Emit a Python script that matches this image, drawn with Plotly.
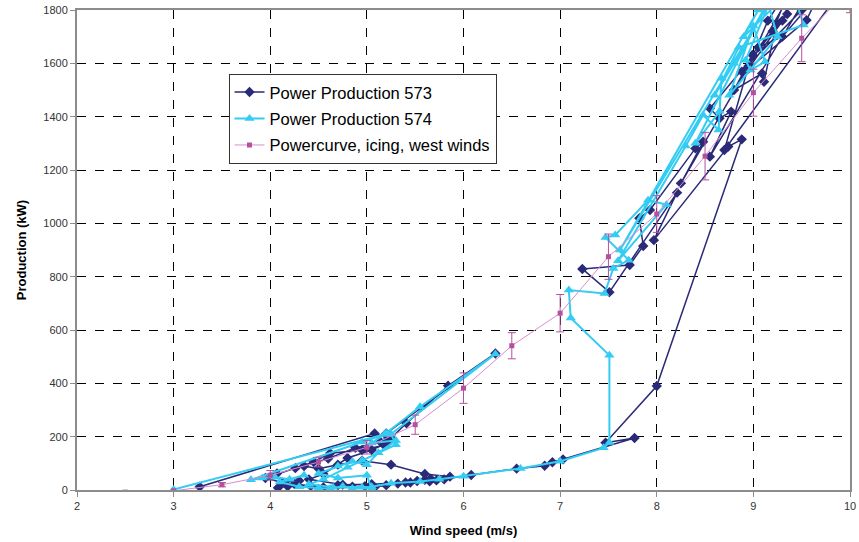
import plotly.graph_objects as go

# ---- Data ----
x573 = [3.27, 5.08, 5.22, 5.18, 4.95, 4.62, 4.45, 4.26, 4.07, 3.95, 4.12, 4.30, 4.18, 4.08, 4.25,
        4.42, 4.55, 4.70, 4.85, 4.98, 5.08, 5.20, 5.32, 5.45, 5.52, 5.60, 5.66, 5.72, 5.80, 5.86,
        5.60, 5.25, 4.95, 4.70, 4.50, 4.35, 4.60, 4.88, 5.14, 5.25, 5.41, 5.84, 6.33, 5.20, 5.22,
        5.05, 4.80, 4.55, 4.40, 4.75, 5.05, 5.40, 5.65, 6.08, 6.55, 6.84, 6.92, 7.03, 7.77, 7.47,
        8.00, 8.88, 8.74, 7.97, 8.21, 7.51, 7.23, 7.72, 7.86, 7.82, 7.93, 8.40, 8.48, 8.25, 9.45,
        9.30, 8.55, 8.65, 8.77, 8.55, 9.60, 9.50, 8.88, 8.99, 8.80, 9.09, 9.11, 9.24, 9.35, 8.95,
        9.55, 9.68, 9.30, 9.05, 9.20, 9.40, 9.15, 8.95, 8.70, 9.82]
y573 = [12, 212, 195, 168, 150, 138, 105, 82, 62, 45, 28, 35, 14, 8, 22,
        15, 10, 18, 12, 14, 10, 18, 24, 28, 34, 38, 42, 36, 40, 50,
        60, 95, 110, 95, 80, 90, 118, 158, 181, 195, 250, 391, 512, 212, 178,
        150, 120, 60, 40, 20, 22, 28, 33, 56, 80, 91, 104, 115, 195, 177,
        390, 1315, 1288, 937, 1115, 742, 829, 844, 915, 1019, 1050, 1281, 1306, 1150, 1900,
        1760, 1431, 1394, 1419, 1250, 1880, 1800, 1569, 1631, 1500, 1562, 1531, 1750, 1785, 1580,
        1762, 1860, 1700, 1660, 1720, 1900, 1760, 1590, 1275, 1830]

x574 = [3.00, 5.18, 4.95, 3.80, 3.92, 4.05, 4.20, 4.35, 4.10, 4.30, 4.50, 4.62, 4.75, 4.85, 4.95,
        5.05, 5.00, 4.70, 4.50, 4.70, 4.85, 5.00, 5.12, 5.30, 5.05, 5.20, 5.55, 6.33, 5.25, 5.30,
        4.95, 4.80, 4.55, 4.40, 4.65, 5.05, 5.25, 5.55, 5.75, 6.00, 6.59, 7.00, 7.45, 7.51, 7.51,
        7.11, 7.09, 7.46, 7.55, 7.71, 7.47, 7.57, 7.91, 8.10, 7.60, 8.30, 8.48, 8.64, 8.67, 8.65,
        8.40, 9.25, 8.92, 8.97, 9.12, 9.00, 8.75, 9.25, 9.15, 8.80, 8.60, 8.85, 9.52, 9.40, 8.90,
        9.05, 7.62, 9.22, 9.35]
y574 = [2, 208, 180, 38, 45, 48, 40, 55, 30, 12, 8, 5, 14, 6, 10,
        5, 55, 45, 62, 90, 108, 95, 140, 186, 176, 214, 312, 510, 210, 170,
        112, 85, 40, 22, 10, 12, 25, 32, 40, 52, 81, 108, 158, 178, 505,
        645, 750, 737, 831, 862, 947, 956, 1087, 1070, 860, 1290, 1406, 1350, 1544, 1420,
        1300, 1900, 1612, 1575, 1606, 1740, 1480, 1700, 1830, 1600, 1480, 1660, 1744, 1880, 1700,
        1800, 900, 1860, 1880]

x_pc = [2.5, 3.0, 3.5, 4.0, 4.5, 5.0, 5.5, 6.0, 6.5, 7.0, 7.5, 8.0, 8.5, 9.0, 9.5, 10.0]
y_pc = [-8, -3, 20, 55, 105, 160, 245, 382, 541, 663, 875, 1035, 1252, 1490, 1694, 1880]
err_pc = [0, 0, 8, 18, 18, 25, 36, 57, 49, 70, 85, 69, 89, 88, 88, 90]

x_ticks = [2, 3, 4, 5, 6, 7, 8, 9, 10]
y_ticks = [0, 200, 400, 600, 800, 1000, 1200, 1400, 1600, 1800]

NAVY = "#2A2A78"
SKY = "#33CCF2"
PINK_LINE = "#DA8CCB"
PINK_MARK = "#B5509F"

fig = go.Figure()
fig.add_trace(go.Scatter(
    x=x573, y=y573, mode="lines+markers", name="Power Production 573",
    line=dict(color=NAVY, width=1.5),
    marker=dict(symbol="diamond", size=8, color=NAVY),
    legendgroup="a"))
fig.add_trace(go.Scatter(
    x=x574, y=y574, mode="lines+markers", name="Power Production 574",
    line=dict(color=SKY, width=2),
    marker=dict(symbol="triangle-up", size=9, color=SKY),
    legendgroup="b"))
fig.add_trace(go.Scatter(
    x=x_pc, y=y_pc, mode="lines+markers", name="Powercurve, icing, west winds",
    line=dict(color=PINK_LINE, width=1),
    marker=dict(symbol="square", size=5, color=PINK_MARK),
    error_y=dict(type="data", array=err_pc, visible=True, color=PINK_MARK,
                 thickness=1, width=4),
    legendgroup="c"))

axis_common = dict(
    showline=True, linecolor="#8C8C8C", linewidth=2, mirror=True,
    showgrid=True, gridcolor="#000000", gridwidth=1, griddash="dash",
    ticks="outside", ticklen=5, tickcolor="#8C8C8C",
    tickfont=dict(family="Liberation Sans, Arial", size=11, color="#333333"),
    zeroline=False, automargin=False,
)

fig.update_layout(
    width=859, height=542,
    margin=dict(l=77, r=9, t=10, b=52),
    paper_bgcolor="white", plot_bgcolor="white",
    font=dict(family="Liberation Sans, Arial", color="#000000"),
    showlegend=True,
    legend=dict(
        x=0.196, y=0.867, xanchor="left", yanchor="top",
        bgcolor="white", bordercolor="#333333", borderwidth=1,
        font=dict(family="Liberation Sans, Arial", size=16.5, color="#000000"),
        tracegroupgap=2, itemwidth=30,
    ),
    xaxis=dict(range=[2, 10], tickvals=x_ticks,
               title=dict(text="<b>Wind speed (m/s)</b>", font=dict(size=13), standoff=15),
               **axis_common),
    yaxis=dict(range=[0, 1800], tickvals=y_ticks,
               title=dict(text="<b>Production (kW)</b>", font=dict(size=13), standoff=14),
               **axis_common),
)

fig.write_html("out.html")
